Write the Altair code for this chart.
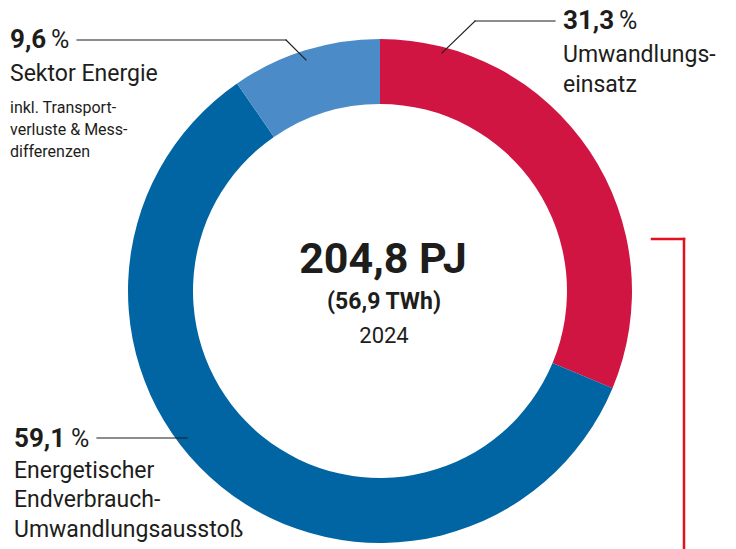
import altair as alt
import pandas as pd

# ---- data ----
categories = ["Umwandlungseinsatz", "Energetischer Endverbrauch-Umwandlungsausstoß", "Sektor Energie"]
shares = [31.3, 59.1, 9.6]
colors = ["#d01543", "#0065a2", "#4b8cc8"]
total_pj = "204,8 PJ"
total_twh = "(56,9 TWh)"
year = "2024"

FONT = "Roboto"
TXT = "#1d1d1b"

def num(v):
    return f"{v:.1f}".replace(".", ",")

df = pd.DataFrame({"cat": categories, "share": shares, "order": list(range(len(categories)))})

CX, CY = 372, 283

donut = alt.Chart(df).mark_arc(innerRadius=187, outerRadius=252, stroke=None).encode(
    theta=alt.Theta("share:Q", stack=True),
    order=alt.Order("order:Q"),
    color=alt.Color("cat:N", scale=alt.Scale(domain=categories, range=colors), legend=None),
    x=alt.value(CX),
    y=alt.value(CY),
)

one = alt.Data(values=[{"k": 1}])

def label(txt, x, y, size, weight="normal", align="left", color=TXT):
    return alt.Chart(one).mark_text(
        text=txt, fontSize=size, fontWeight=weight, align=align,
        baseline="alphabetic", font=FONT, color=color,
    ).encode(x=alt.value(x), y=alt.value(y))

def seg(x1, y1, x2, y2, color="#1d1d1b", w=1.2):
    return alt.Chart(one).mark_rule(color=color, strokeWidth=w, strokeCap="square").encode(
        x=alt.value(x1), y=alt.value(y1), x2=alt.value(x2), y2=alt.value(y2)
    )

o = 8  # page margin offset
layers = [donut]
# center
layers += [
    label(total_pj, 383 - o, 273 - o, 43, "bold", "center"),
    label(total_twh, 384 - o, 309 - o, 23, "bold", "center"),
    label(year, 384 - o, 343 - o, 22, "normal", "center"),
]
# Sektor Energie (top-left)
layers += [
    label(num(shares[2]), 10 - o, 48 - o, 26, "bold"),
    label("%", 51 - o, 48 - o, 25),
    label("Sektor Energie", 10 - o, 81 - o, 23),
    label("inkl. Transport-", 10 - o, 113 - o, 16),
    label("verluste & Mess-", 10 - o, 135 - o, 16),
    label("differenzen", 10 - o, 157 - o, 16),
    seg(77 - o, 40 - o, 286 - o, 40 - o),
    seg(286 - o, 40 - o, 306 - o, 60 - o),
]
# Umwandlungseinsatz (top-right)
layers += [
    label(num(shares[0]), 563 - o, 29 - o, 26, "bold"),
    label("%", 619 - o, 29 - o, 25),
    label("Umwandlungs-", 563 - o, 62 - o, 23),
    label("einsatz", 563 - o, 92 - o, 23),
    seg(555 - o, 21 - o, 475 - o, 21 - o),
    seg(475 - o, 21 - o, 442 - o, 53 - o),
]
# Energetischer Endverbrauch (bottom-left)
layers += [
    label(num(shares[1]), 14 - o, 447 - o, 26, "bold"),
    label("%", 71 - o, 447 - o, 25),
    label("Energetischer", 14 - o, 478 - o, 23),
    label("Endverbrauch-", 14 - o, 507 - o, 23),
    label("Umwandlungsausstoß", 14 - o, 537 - o, 23),
    seg(97 - o, 438 - o, 187 - o, 438 - o),
]
# red bracket
layers += [
    seg(652 - o, 239 - o, 684 - o, 239 - o, "#e3101f", 2.5),
    seg(684 - o, 239 - o, 684 - o, 560, "#e3101f", 2.5),
]

chart = alt.layer(*layers).properties(
    width=720, height=541, padding=0, autosize="none"
).configure_view(stroke=None)

chart.save("out.html", embed_options={"renderer": "svg", "actions": False})
